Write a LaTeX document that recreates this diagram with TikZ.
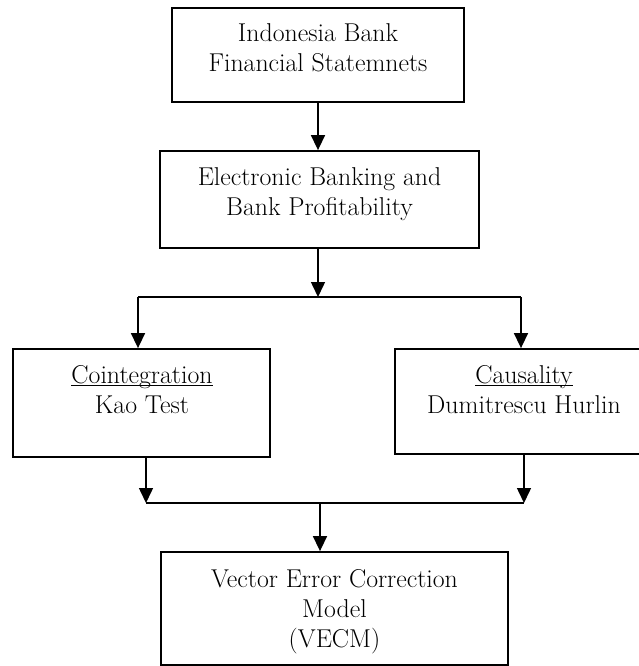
\documentclass[tikz,border=0pt]{standalone}
\usetikzlibrary{arrows.meta}
% underline that sits just under the baseline, crossing descenders
\newcommand\ulin[1]{\setbox0\hbox{#1}\rlap{\rule[-2.8pt]{\wd0}{1.1pt}}\box0}
% centred multi-line label whose reference point is the first baseline
\newcommand\lines[1]{\begin{tabular}[t]{@{}c@{}}#1\end{tabular}}
\begin{document}
\begin{tikzpicture}[x=1pt,y=-1pt,
  box/.style={draw=black, line width=1.8pt, inner sep=0pt},
  lbl/.style={anchor=base, inner sep=0pt, font=\fontsize{25.8}{30}\selectfont},
  conn/.style={draw=black, line width=1.5pt, -{Triangle[length=15pt,width=14pt]}},
  wire/.style={draw=black, line width=1.5pt}]
\useasboundingbox (0,0) rectangle (639,666);

% boxes
\node[box, minimum width=292pt, minimum height=94pt]  (src)   at (318,55)    {};
\node[box, minimum width=319pt, minimum height=97pt]  (eb)    at (319.5,199.5) {};
\node[box, minimum width=257pt, minimum height=108pt] (coint) at (141.5,403) {};
\node[box, minimum width=258pt, minimum height=105pt] (caus)  at (524,401.5) {};
\node[box, minimum width=347pt, minimum height=113pt] (vecm)  at (334.5,608.5) {};

% texts
\node[lbl] (srct)   at (318,42)  {\lines{Indonesia Bank\\Financial Statemnets}};
\node[lbl] (ebt)    at (319.5,185) {\lines{Electronic Banking and\\Bank Profitability}};
\node[lbl] (cointt) at (142,383) {\lines{\ulin{Cointegration}\\Kao Test}};
\node[lbl] (caust)  at (524,383) {\lines{\ulin{Causality}\\Dumitrescu Hurlin}};
\node[lbl] (vecmt)  at (334.5,587) {\lines{Vector Error Correction\\Model\\(VECM)}};

% branching points
\coordinate (fork)  at (318,297);
\coordinate (forkL) at (138,297);
\coordinate (forkR) at (521,297);
\coordinate (joinL) at (146,503);
\coordinate (joinR) at (524,503);
\coordinate (join)  at (320,503);

% connectors
\draw[conn] (src.south) -- (src.south |- eb.north);
\draw[conn] (eb.south -| fork) -- (fork);
\draw[wire] (forkL) -- (forkR);
\draw[conn] (forkL) -- (forkL |- coint.north);
\draw[conn] (forkR) -- (forkR |- caus.north);
\draw[conn] (joinL |- coint.south) -- (joinL);
\draw[conn] (joinR |- caus.south) -- (joinR);
\draw[wire] (joinL) -- (joinR);
\draw[conn] (join) -- (join |- vecm.north);
\end{tikzpicture}
\end{document}
